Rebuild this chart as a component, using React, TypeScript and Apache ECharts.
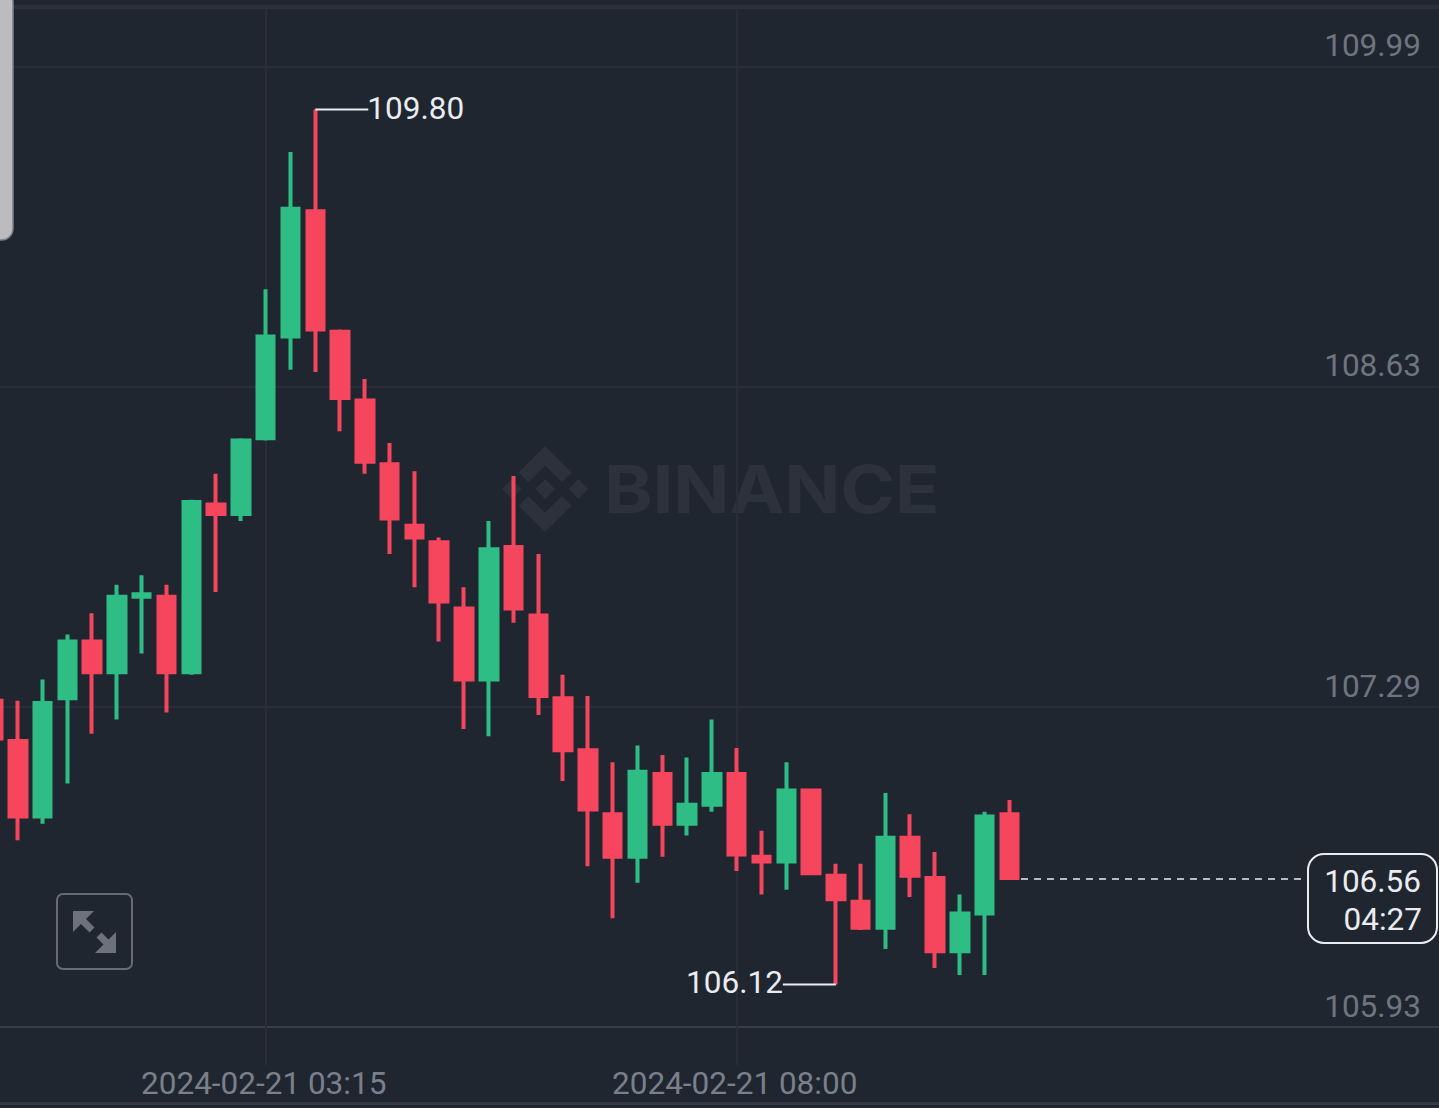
import React, { useEffect, useRef } from "react";
import * as echarts from "echarts";

const DATE_PREFIX = "2024-02-21 ";
const times = [
  "00:30","00:45","01:00","01:15","01:30","01:45","02:00","02:15","02:30","02:45",
  "03:00","03:15","03:30","03:45","04:00","04:15","04:30","04:45","05:00","05:15",
  "05:30","05:45","06:00","06:15","06:30","06:45","07:00","07:15","07:30","07:45",
  "08:00","08:15","08:30","08:45","09:00","09:15","09:30","09:45","10:00","10:15",
  "10:30","10:45",
];
const opens = [
  107.31,107.14,106.82,107.32,107.56,107.43,107.75,107.75,107.43,108.14,108.10,108.42,108.85,109.38,
  108.87,108.58,108.31,108.05,107.98,107.70,107.40,107.96,107.67,107.32,107.10,106.83,106.65,107.00,
  106.79,106.87,107.00,106.65,106.63,106.93,106.57,106.46,106.35,106.73,106.56,106.25,106.41,106.83,
];
const closes = [
  107.15,106.82,107.30,107.56,107.43,107.75,107.76,107.43,108.15,108.10,108.41,108.85,109.39,108.88,
  108.59,108.32,108.08,108.00,107.73,107.40,107.95,107.70,107.33,107.10,106.85,106.65,107.01,106.79,
  106.87,107.00,106.66,106.63,106.93,106.58,106.47,106.35,106.73,106.57,106.25,106.41,106.82,106.56,
];
const lows = [
  107.15,106.72,106.79,106.96,107.17,107.23,107.51,107.26,107.42,107.77,108.07,108.41,108.71,108.70,
  108.45,108.27,107.93,107.79,107.56,107.19,107.16,107.64,107.25,106.97,106.61,106.39,106.54,106.65,
  106.74,106.84,106.59,106.49,106.51,106.58,106.11,106.34,106.26,106.48,106.18,106.15,106.15,106.56,
];
const highs = [
  107.32,107.31,107.40,107.59,107.68,107.80,107.84,107.80,108.16,108.27,108.42,109.05,109.63,109.81,
  108.88,108.67,108.40,108.28,108.00,107.79,108.07,108.26,107.93,107.42,107.33,107.05,107.12,107.08,
  107.07,107.23,107.11,106.76,107.05,106.93,106.62,106.62,106.92,106.83,106.67,106.49,106.84,106.89,
];
const yTickValues = [105.93, 107.2833, 108.6367, 109.99];
const yTickLabels = ["105.93", "107.29", "108.63", "109.99"];
const xTickTimes = ["03:15", "08:00"];
const peak = { time: "03:45", value: 109.81, label: "109.80" };
const trough = { time: "09:00", value: 106.11, label: "106.12" };
const lastPrice = 106.556;
const lastPriceLabel = "106.56";
const countdownLabel = "04:27";
const lastTime = "10:45";
const brand = "BINANCE";

const BG = "#202630";
const GREEN = "#2EBD85";
const RED = "#F6465D";
const GREY = "#6F7580";
const XGREY = "#7A808B";
const WHITE = "#EAECEF";
const GRID = "#282D37";
const MARK = "#2C313B";
const FONT = "Roboto";
const FS = 31.5;

const LOGO =
  "M38.73 53.2l24.59-24.58 24.6 24.6 14.3-14.31L63.32 0 24.43 38.9zM0 63.31l14.3-14.31 14.31 14.31-14.31 14.3zM38.73 73.41l24.59 24.59 24.6-24.6 14.31 14.29-38.9 38.91-38.91-38.88-.02-.02zM98 63.31l14.3-14.31 14.31 14.3-14.31 14.32zM77.83 63.3L63.32 48.78 52.59 59.51l-1.24 1.23-2.54 2.54 14.51 14.5 14.5-14.51z";
echarts.graphic.registerShape("binanceLogo", echarts.graphic.extendPath(LOGO as any, {}) as any);

export default function App() {
  const ref = useRef<HTMLDivElement>(null);
  useEffect(() => {
    document.body.style.margin = "0";
    const chart = echarts.init(ref.current!, null, { renderer: "svg" });
    const candleData = opens.map((o, i) => [i, o, closes[i], lows[i], highs[i]]);
    const xTickIdx = xTickTimes.map((t) => times.indexOf(t));
    chart.setOption({
      animation: false,
      backgroundColor: BG,
      grid: { left: 0, right: 0, top: 8, height: 1057, containLabel: false },
      xAxis: {
        type: "value",
        min: 0.2824,
        max: 58.33,
        scale: true,
        axisLine: { show: false },
        axisTick: { show: false, customValues: xTickIdx },
        splitLine: { show: true, lineStyle: { color: GRID, width: 2 } },
        axisLabel: {
          customValues: xTickIdx,
          formatter: (v: number) => DATE_PREFIX + times[v],
          color: XGREY,
          fontFamily: FONT,
          fontSize: FS,
          margin: 2,
          padding: [0, 4, 0, 0],
          hideOverlap: false,
        },
      },
      yAxis: {
        type: "value",
        position: "right",
        min: 105.7693,
        max: 110.2395,
        scale: true,
        axisLine: { show: false },
        axisTick: { show: false, customValues: yTickValues },
        splitLine: { show: true, lineStyle: { color: ["#383D47", GRID, GRID, GRID], width: 2 } },
        axisLabel: {
          inside: true,
          customValues: yTickValues,
          formatter: (v: number) => yTickLabels[yTickValues.indexOf(v)] ?? "",
          color: GREY,
          fontFamily: FONT,
          fontSize: FS,
          margin: 18,
          verticalAlign: "bottom",
          lineHeight: 36,
          padding: [0, 0, 3, 0],
        },
      },
      series: [
        {
          type: "candlestick",
          data: candleData,
          barWidth: 17,
          itemStyle: { color: GREEN, color0: RED, borderColor: GREEN, borderColor0: RED, borderWidth: 4 },
          markPoint: {
            silent: true,
            data: [
              {
                coord: [times.indexOf(peak.time), peak.value],
                symbol: "rect",
                symbolSize: [53, 2],
                symbolOffset: [26.5, 0],
                itemStyle: { color: WHITE },
                label: {
                  show: true,
                  position: "right",
                  distance: 1,
                  offset: [-2, -1],
                  formatter: peak.label,
                  color: WHITE,
                  fontFamily: FONT,
                  fontSize: FS,
                },
              },
              {
                coord: [times.indexOf(trough.time), trough.value],
                symbol: "rect",
                symbolSize: [53, 2],
                symbolOffset: [-26.5, 0],
                itemStyle: { color: WHITE },
                label: {
                  show: true,
                  position: "left",
                  distance: 1,
                  offset: [1, -2],
                  formatter: trough.label,
                  color: WHITE,
                  fontFamily: FONT,
                  fontSize: FS,
                },
              },
            ],
          },
          markLine: {
            silent: true,
            symbol: "none",
            label: { show: false },
            lineStyle: { color: WHITE, type: [7, 6], width: 1.5 },
            data: [[
              { coord: [times.indexOf(lastTime), lastPrice], x: 1021 },
              { coord: [times.indexOf(lastTime), lastPrice], x: 1308 },
            ]],
          },
        },
      ],
      graphic: [
        { type: "rect", z: 0, silent: true, shape: { x: 0, y: 5, width: 1439, height: 4 }, style: { fill: "#2B303B" } },
        { type: "rect", z: 0, silent: true, shape: { x: 0, y: 1102, width: 1439, height: 3 }, style: { fill: "#343945" } },
        {
          type: "binanceLogo", z: 0, silent: true, x: 502, y: 446, scaleX: 0.68, scaleY: 0.68,
          style: { fill: MARK },
        },
        {
          type: "text", z: 0, silent: true, x: 604, y: 489, scaleX: 1.115,
          style: { text: brand, fill: MARK, fontFamily: "Inter", fontWeight: 700, fontSize: 66, textAlign: "left", textVerticalAlign: "middle" },
        },
        {
          type: "rect", z: 20, silent: true,
          shape: { x: -10, y: -10, width: 23, height: 250, r: 14 },
          style: { fill: "#BCBCC0", stroke: "#7E818A", lineWidth: 1.5 },
        },
        {
          type: "rect", z: 20, silent: true,
          shape: { x: 57, y: 894, width: 75, height: 75, r: 6 },
          style: { fill: "none", stroke: "#666B75", lineWidth: 2 },
        },
        { type: "polygon", z: 20, silent: true, shape: { points: [[73, 911], [94, 911], [73, 932]] }, style: { fill: "#6C717B" } },
        { type: "line", z: 20, silent: true, shape: { x1: 82, y1: 920, x2: 92, y2: 930 }, style: { stroke: "#6C717B", lineWidth: 7 } },
        { type: "polygon", z: 20, silent: true, shape: { points: [[116, 932], [116, 953], [95, 953]] }, style: { fill: "#6C717B" } },
        { type: "line", z: 20, silent: true, shape: { x1: 99, y1: 935, x2: 108, y2: 944 }, style: { stroke: "#6C717B", lineWidth: 7 } },
        {
          type: "rect", z: 20, silent: true,
          shape: { x: 1308, y: 854, width: 129, height: 89, r: 16 },
          style: { fill: BG, stroke: WHITE, lineWidth: 2 },
        },
        {
          type: "text", z: 21, silent: true, x: 1421, y: 881,
          style: { text: lastPriceLabel, fill: WHITE, fontFamily: FONT, fontSize: FS, textAlign: "right", textVerticalAlign: "middle" },
        },
        {
          type: "text", z: 21, silent: true, x: 1422, y: 919,
          style: { text: countdownLabel, fill: WHITE, fontFamily: FONT, fontSize: FS, textAlign: "right", textVerticalAlign: "middle" },
        },
      ],
    });
    return () => chart.dispose();
  }, []);
  return <div ref={ref} style={{ position: "absolute", left: 0, top: 0, width: 1439, height: 1108 }} />;
}
